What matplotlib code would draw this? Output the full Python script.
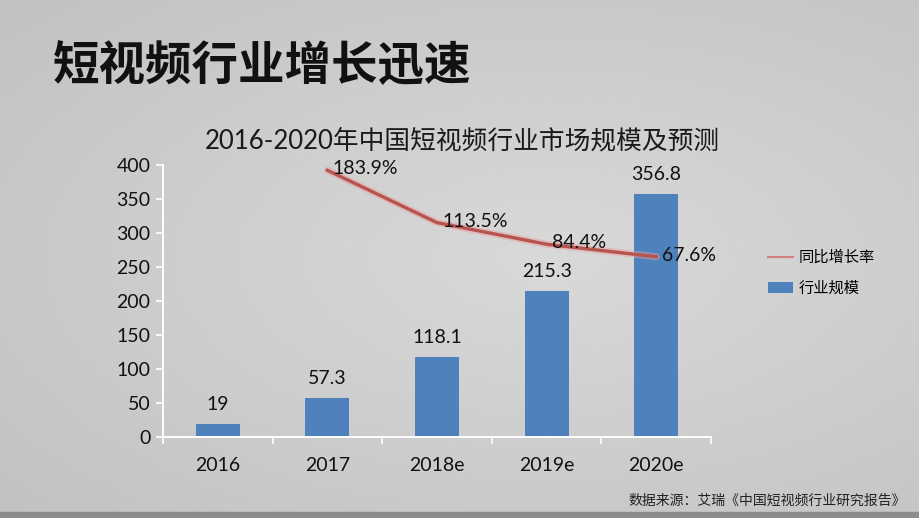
import numpy as np
import matplotlib
matplotlib.use("Agg")
import matplotlib.pyplot as plt
from matplotlib.lines import Line2D
from matplotlib.patches import Patch

plt.rcParams['font.family'] = ['Lato', 'Noto Sans CJK SC', 'DejaVu Sans']

years = ["2016", "2017", "2018e", "2019e", "2020e"]
market_size = [19, 57.3, 118.1, 215.3, 356.8]
size_labels = ["19", "57.3", "118.1", "215.3", "356.8"]
growth_years = ["2017", "2018e", "2019e", "2020e"]
growth_rate = [183.9, 113.5, 84.4, 67.6]

bar_color = "#4F81BD"
line_color = "#B85450"

fig = plt.figure(figsize=(9.2, 5.18), dpi=100)

# grey slide background, lighter in the middle
bg = fig.add_axes([0, 0, 1, 1], zorder=-10)
yy, xx = np.mgrid[0:1:200j, 0:1:360j]
r = np.sqrt(((xx - 0.6) / 0.9) ** 2 + ((yy - 0.5) / 0.8) ** 2)
bg.imshow(0.85 - 0.1 * r, cmap="gray", vmin=0, vmax=1, aspect="auto",
          extent=[0, 1, 0, 1], origin="lower")
bg.axhspan(0, 0.012, color="#8c8c8c")
bg.set_xlim(0, 1)
bg.set_ylim(0, 1)
bg.axis("off")

fig.text(0.057, 0.872, "短视频行业增长迅速", fontsize=33.5, fontweight="heavy",
         family=["Noto Sans CJK SC"], color="#111111", va="center")
fig.text(0.502, 0.727, "2016-2020年中国短视频行业市场规模及预测", fontsize=18.5,
         family=["Lato", "Noto Sans CJK SC"], color="#1a1a1a", ha="center", va="center")
fig.text(0.985, 0.034, "数据来源：艾瑞《中国短视频行业研究报告》", fontsize=10,
         family=["Noto Sans CJK SC"], color="#222222", ha="right", va="center")

ax = fig.add_axes([0.177, 0.156, 0.596, 0.5255])
ax.patch.set_alpha(0)
x = np.arange(len(years))
ax.bar(x, market_size, width=0.4, color=bar_color, zorder=2)
for xi, v, lab in zip(x, market_size, size_labels):
    ax.annotate(lab, (xi, v), xytext=(0, 8), textcoords="offset points",
                ha="center", va="bottom", fontsize=14, color="#111111")

ax.set_xlim(-0.5, len(years) - 0.5)
ax.set_ylim(0, 400)
ax.set_yticks(np.arange(0, 401, 50))
ax.set_xticks(x)
ax.set_xticklabels(years)
ax.set_xticks(np.arange(-0.5, len(years)), minor=True)
ax.tick_params(axis="x", which="major", length=0, pad=14, labelsize=14, labelcolor="#111111")
ax.tick_params(axis="x", which="minor", length=5, color="white", width=1.2)
ax.tick_params(axis="y", length=5, color="white", width=1.2, labelsize=14,
               labelcolor="#111111", pad=4)
for s in ["top", "right"]:
    ax.spines[s].set_visible(False)
for s in ["left", "bottom"]:
    ax.spines[s].set_color("white")
    ax.spines[s].set_linewidth(1.4)

ax2 = ax.twinx()
ax2.set_ylim(-175, 191)
gx = [years.index(g) for g in growth_years]
ax2.plot(gx, growth_rate, color="#e8a0a0", lw=5, alpha=0.5, solid_capstyle="round")
ax2.plot(gx, growth_rate, color=line_color, lw=2.4)
for xi, v in zip(gx, growth_rate):
    ax2.annotate(f"{v}%", (xi, v), xytext=(4, 1), textcoords="offset points",
                 ha="left", va="center", fontsize=14, color="#111111")
ax2.axis("off")

handles = [Line2D([0], [0], color="#d08080", lw=1.5),
           Patch(facecolor=bar_color)]
fig.legend(handles, ["同比增长率", "行业规模"], loc="center left",
           bbox_to_anchor=(0.82, 0.473), frameon=False,
           prop={"family": ["Noto Sans CJK SC"], "size": 11},
           handlelength=1.6, handletextpad=0.4, labelspacing=0.9)

fig.savefig("out.png", dpi=100)
